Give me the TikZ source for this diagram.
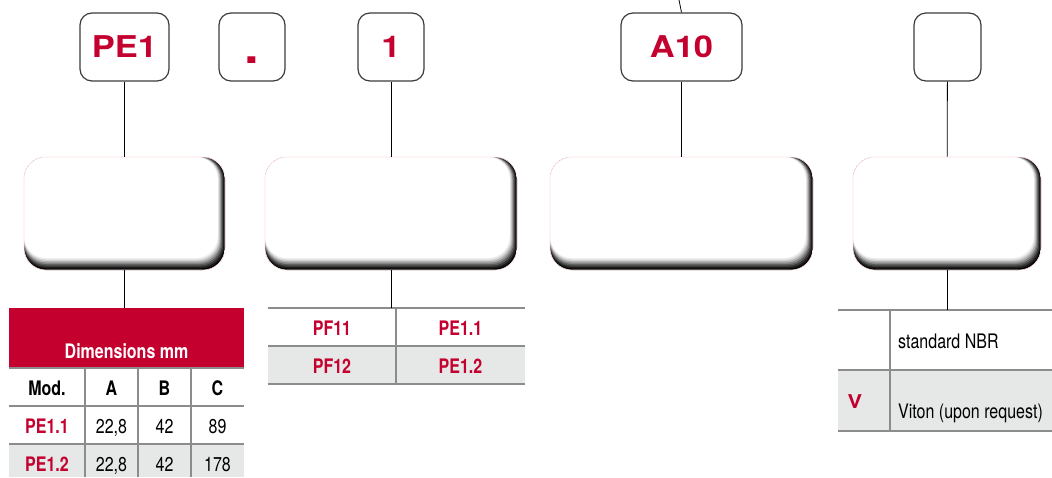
\documentclass[tikz,border=0pt]{standalone}
\usepackage{fontspec}
\setmainfont{TeX Gyre Heros}[FakeStretch=0.8]
\newfontfamily\widefont{TeX Gyre Heros}[FakeStretch=1.15]
\usetikzlibrary{positioning,calc}

\definecolor{codered}{RGB}{196,0,46}
\definecolor{rowgray}{RGB}{230,231,231}
\definecolor{rulegray}{RGB}{140,140,140}
\definecolor{boxline}{RGB}{60,60,60}

\tikzset{
  codebox/.style={draw=boxline, line width=1.2pt, rounded corners=12pt, fill=white,
    minimum height=68pt, inner sep=0pt, text=codered,
    font=\widefont\bfseries\fontsize{30}{30}\selectfont},
  shadebox/.style={draw=red!12, line width=0.6pt, rounded corners=22pt, fill=white,
    minimum height=113pt, inner sep=0pt,
    path picture={
      \foreach \k/\c in {0/black, 1/black!90, 2/black!78, 3/black!64, 4/black!48, 5/black!32, 6/black!18, 7/black!7, 8/white}
        \fill[\c, rounded corners=22pt] (path picture bounding box.north west)
          rectangle ([xshift=-0.9*\k pt, yshift=1.5*\k pt]path picture bounding box.south east);
    }},
  link/.style={line width=0.8pt},
  rule/.style={rulegray, line width=1.5pt},
  colrule/.style={rulegray, line width=2.5pt},
  plaintxt/.style={anchor=base, inner sep=0pt, font=\fontsize{20}{20}\selectfont},
  boldtxt/.style={plaintxt, font=\bfseries\fontsize{20}{20}\selectfont},
  redtxt/.style={boldtxt, text=codered},
}

\begin{document}
\begin{tikzpicture}[x=1pt, y=-1pt]
  \useasboundingbox (0,0) rectangle (1052,477);

  % code boxes
  \node[codebox, minimum width=89pt] (pe1) at (124.5,47) {PE1};
  \node[codebox, minimum width=66pt, font=\widefont\bfseries\fontsize{46}{46}\selectfont] (dot) at (252,47) {\vphantom{1}.};
  \node[codebox, minimum width=66pt] (one) at (391,47) {1};
  \node[codebox, minimum width=121pt] (a10) at (681.5,47) {A10};
  \node[codebox, minimum width=67pt] (blank) at (947.5,47) {};
  \coordinate (a10up) at (679,0);

  % shaded boxes
  \node[shadebox, minimum width=201pt] (sh1) at (124.5,213.5) {};
  \node[shadebox, minimum width=252pt] (sh2) at (391,213.5) {};
  \node[shadebox, minimum width=263pt] (sh3) at (681.5,213.5) {};
  \node[shadebox, minimum width=188pt] (sh4) at (947,213.5) {};

  % dimensions table
  \node[fill=codered, minimum width=235pt, minimum height=60pt, inner sep=0pt,
        anchor=north west] (dimhead) at (9,308) {};
  \fill[rowgray] (9,444) rectangle (244,477);
  \foreach \y in {368,406,444}
    \draw[rule] (9,\y) -- (244,\y);
  \foreach \x in {85,138,191}
    \draw[colrule] (\x,368) -- (\x,477);
  \node[boldtxt, text=white] (dimtitle) at (126.5,358) {Dimensions mm};
  \node[boldtxt] (hmod) at (47,395) {Mod.};
  \node[boldtxt] (ha) at (111.5,395) {A};
  \node[boldtxt] (hb) at (164.5,395) {B};
  \node[boldtxt] (hc) at (217.5,395) {C};
  \node[redtxt] (mod1) at (47,433) {PE1.1};
  \node[plaintxt] (a1) at (111.5,433) {22,8};
  \node[plaintxt] (b1) at (164.5,433) {42};
  \node[plaintxt] (c1) at (217.5,433) {89};
  \node[redtxt] (mod2) at (47,471) {PE1.2};
  \node[plaintxt] (a2) at (111.5,471) {22,8};
  \node[plaintxt] (b2) at (164.5,471) {42};
  \node[plaintxt] (c2) at (217.5,471) {178};

  % variant table
  \fill[rowgray] (268,346) rectangle (525,384);
  \foreach \y in {308,346,384}
    \draw[rule] (268,\y) -- (525,\y);
  \draw[colrule] (396,308) -- (396,384);
  \coordinate (vartop) at (391,308);
  \node[redtxt] (pf11) at (332,335) {PF11};
  \node[redtxt] (pe11) at (460.5,335) {PE1.1};
  \node[redtxt] (pf12) at (332,373) {PF12};
  \node[redtxt] (pe12) at (460.5,373) {PE1.2};

  % seal table
  \fill[rowgray] (838,370) rectangle (1052,431);
  \foreach \y in {310,370,431}
    \draw[rule] (838,\y) -- (1052,\y);
  \draw[colrule] (890,310) -- (890,431);
  \coordinate (sealtop) at (947.5,310);
  \node[plaintxt, anchor=base west] (nbr) at (898,348) {standard NBR};
  \node[redtxt, font=\widefont\bfseries\fontsize{19}{19}\selectfont] (vcode) at (855,408) {V};
  \node[plaintxt, anchor=base west] (viton) at (898,418) {Viton (upon request)};

  % connectors
  \draw[link] (a10up) -- (a10.north);
  \draw[link] (pe1) -- (sh1);
  \draw[link] (one) -- (sh2);
  \draw[link] (a10) -- (sh3);
  \draw[link] (blank) -- (sh4);
  \draw[link] (sh1.south) -- (sh1.south |- dimhead.north);
  \draw[link] (sh2.south) -- (vartop);
  \draw[link] (sh4.south) -- (sh4.south |- sealtop);
\end{tikzpicture}
\end{document}
